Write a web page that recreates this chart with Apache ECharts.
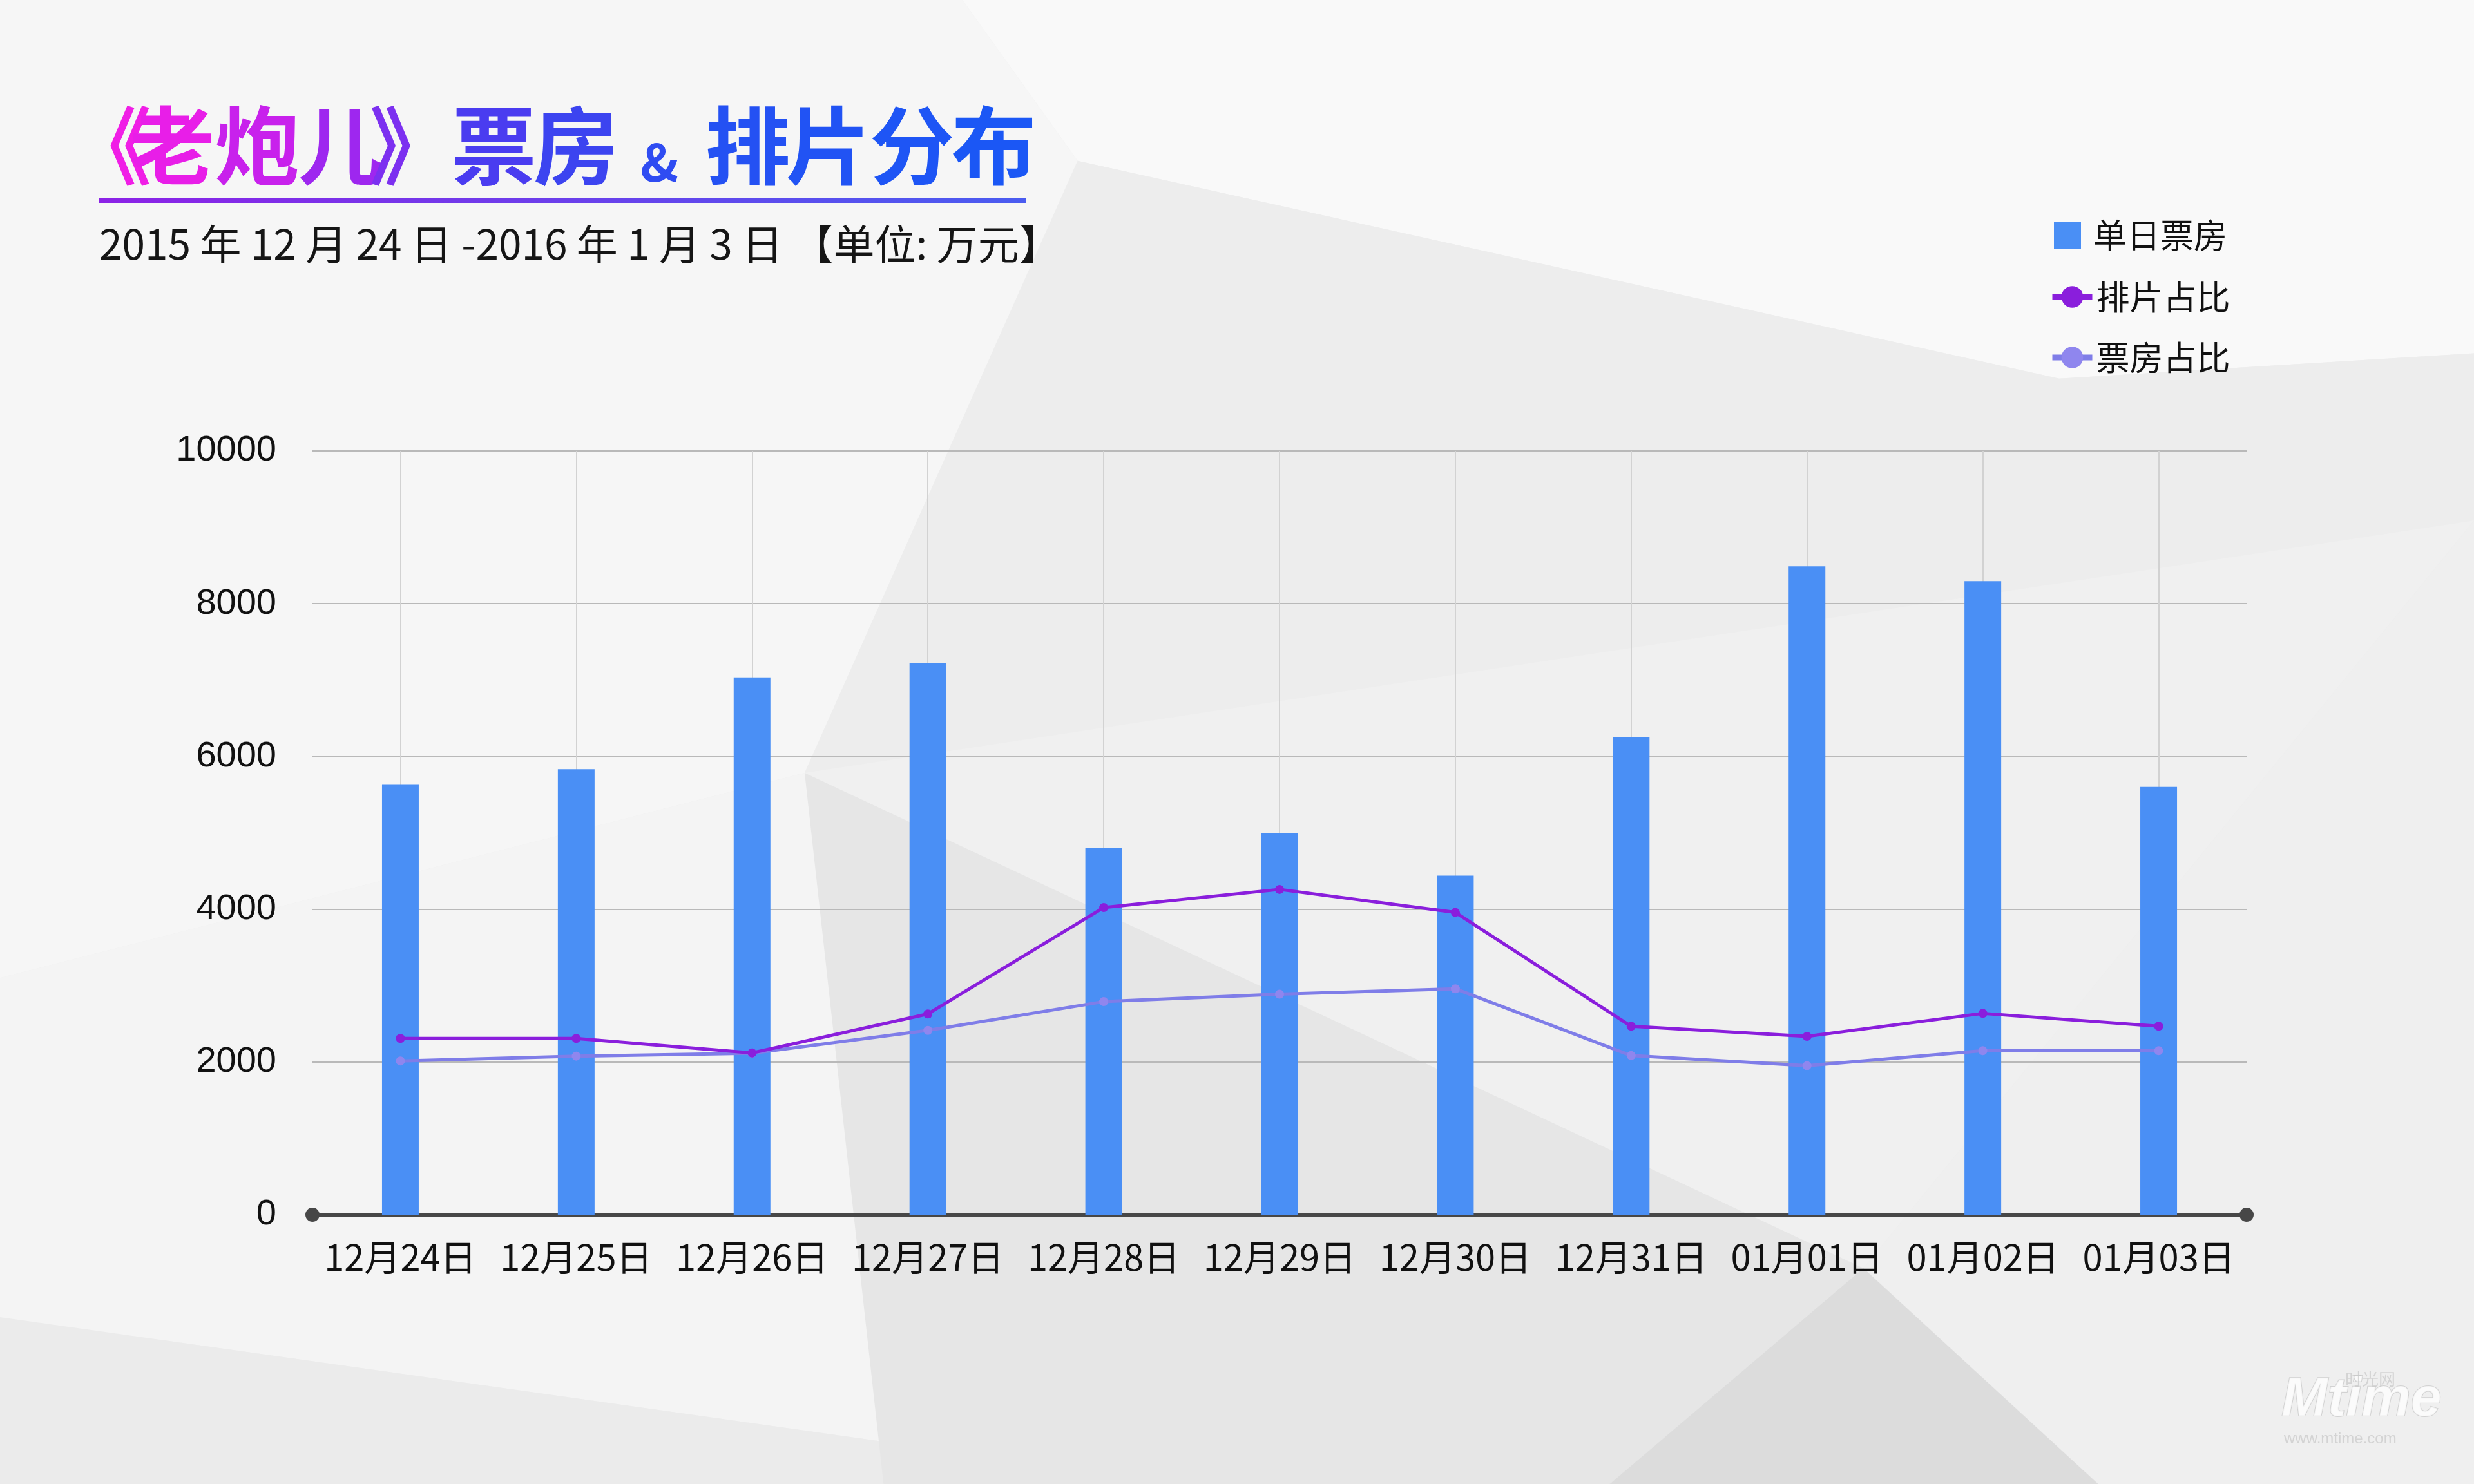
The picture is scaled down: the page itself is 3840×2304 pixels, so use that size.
<!DOCTYPE html>
<html>
<head>
<meta charset="utf-8">
<script src="https://cdn.jsdelivr.net/npm/echarts@6/dist/echarts.min.js"></script>
<style>
html,body{margin:0;padding:0;background:#eeeeee;}
#chart{width:3840px;height:2304px;}
</style>
</head>
<body>
<div id="chart"></div>
<script>
var categories = ['12月24日','12月25日','12月26日','12月27日','12月28日','12月29日','12月30日','12月31日','01月01日','01月02日','01月03日'];
var boxOffice = [5637, 5832, 7035, 7223, 4804, 4993, 4440, 6251, 8489, 8294, 5601];
var screenShare = [2308, 2308, 2119, 2629, 4021, 4259, 3958, 2468, 2336, 2636, 2468];
var boxShare = [2014, 2077, 2115, 2413, 2790, 2888, 2958, 2084, 1951, 2147, 2147];
var yTicks = { min: 0, max: 10000, interval: 2000 };

var S = 3840 / 1568;
function P(arr){ return arr.map(function(p){ return [p[0]*S, p[1]*S]; }); }
function poly(pts, color){
  return { type:'polygon', z:-100, silent:true, shape:{ points:P(pts) }, style:{ fill: color } };
}

var chart = echarts.init(document.getElementById('chart'));
var CJK = '"Noto Sans CJK SC", "Noto Sans", sans-serif';

var bg = [
  { type:'rect', z:-101, silent:true, shape:{x:0,y:0,width:3840,height:2304}, style:{fill:'#eeeeee'} },
  poly([[0,0],[610,0],[683,102],[510,490],[0,620]], '#f6f6f6'),
  poly([[610,0],[1568,0],[1568,224],[1305,240],[683,102]], '#f9f9f9'),
  poly([[683,102],[1305,240],[1568,224],[1568,330],[510,490]], '#ededed'),
  poly([[0,620],[510,490],[0,940]], '#f4f4f4'),
  poly([[0,835],[510,490],[560,914]], '#f4f4f4'),
  poly([[0,835],[560,914],[560,941],[0,941]], '#ebebeb'),
  poly([[510,490],[1568,330],[1181,804]], '#f0f0f0'),
  poly([[510,490],[1181,804],[1020,941],[560,941]], '#e6e6e6'),
  poly([[1181,804],[1568,330],[1568,941],[1330,941]], '#efefef'),
  poly([[1181,804],[1330,941],[1020,941]], '#dcdcdc')
];

// title glyphs: [char, centre x (display px), colour]
var titleChars = [
  ['《',69,'#f01ee6'],['老',109,'#e81ee8'],['炮',163,'#c821ec'],['儿',216,'#9e27ef'],['》',261,'#7c30f0'],
  ['票',313,'#4a3cf0'],['房',365,'#3c44f0'],
  ['排',474,'#2451f3'],['片',525,'#2153f4'],['分',578,'#1e55f5'],['布',630,'#1b57f5']
];
var titleGroup = titleChars.map(function(c){
  return { type:'text', x:c[1]*S, y:226, z:10,
    style:{ text:c[0], font:'bold 132px ' + CJK, fill:c[2], textAlign:'center', textVerticalAlign:'middle' } };
});
titleGroup = titleGroup.concat([
  { type:'text', x:418*S, y:252, z:10,
    style:{ text:'&', font:'bold 80px ' + CJK, fill:'#2f4cf2', textAlign:'center', textVerticalAlign:'middle' } },
  { type:'rect', z:10, shape:{ x:154, y:308, width:1438, height:7 },
    style:{ fill: new echarts.graphic.LinearGradient(0,0,1,0,[
        {offset:0,color:'#8c22e6'},{offset:1,color:'#4a5cf0'}]) } },
  { type:'text', x:154, y:379, z:10,
    style:{ text:'2015 年 12 月 24 日 -2016 年 1 月 3 日 【单位: 万元】', font:'64px ' + CJK, fill:'#151515', textVerticalAlign:'middle' } },
  { type:'text', left:3540, top:2130, z:-50, silent:true,
    style:{ text:'Mtime', font:'italic bold 86px "Liberation Sans", sans-serif', fill:'rgba(255,255,255,0.75)', stroke:'rgba(190,190,190,0.6)', lineWidth:2 } },
  { type:'text', left:3640, top:2128, z:-50, silent:true,
    style:{ text:'时光网', font:'26px ' + CJK, fill:'rgba(200,200,200,0.7)' } },
  { type:'text', left:3545, top:2222, z:-50, silent:true,
    style:{ text:'www.mtime.com', font:'24px "Liberation Sans", sans-serif', fill:'rgba(200,200,200,0.7)' } }
]);

var option = {
  backgroundColor: 'transparent',
  animation: false,
  graphic: bg.concat(titleGroup),
  legend: [
    { data:[{ name:'单日票房', icon:'rect' }], orient:'vertical', left:3183, top:334,
      itemWidth:42, itemHeight:42,
      textStyle:{ fontSize:52, color:'#111', fontFamily:CJK, padding:[0,0,0,14] } },
    { data:['排片占比','票房占比'], orient:'vertical', left:3176, top:430,
      itemWidth:62, itemHeight:42, itemGap:42,
      lineStyle:{ width:9 },
      textStyle:{ fontSize:52, color:'#111', fontFamily:CJK, padding:[0,0,0,1] } }
  ],
  grid: { left:485, right:353, top:700, bottom:418, containLabel:false },
  xAxis: {
    type:'category', data:categories, boundaryGap:true,
    axisLine:{ show:true, lineStyle:{ color:'#474747', width:7 }, symbol:['circle','circle'], symbolSize:[22,22] },
    axisTick:{ show:false },
    axisLabel:{ fontSize:56, color:'#111', fontFamily:CJK, margin:38, interval:0 },
    splitLine:{ show:true, alignWithLabel:true, lineStyle:{ color:'#d2d2d2', width:2 } }
  },
  yAxis: {
    type:'value', min:yTicks.min, max:yTicks.max, interval:yTicks.interval,
    axisLine:{ show:false }, axisTick:{ show:false },
    axisLabel:{ fontSize:56, color:'#111', fontFamily:'"Liberation Sans", Arial, sans-serif', margin:56,
      formatter:function(v){ return String(v); } },
    splitLine:{ lineStyle:{ color:'#b9b9b9', width:2 } }
  },
  series: [
    { name:'单日票房', type:'bar', data:boxOffice, barWidth:57,
      itemStyle:{ color:'#4a8ff5' }, z:2 },
    { name:'排片占比', type:'line', data:screenShare, symbol:'circle', symbolSize:14,
      lineStyle:{ color:'#8a1edc', width:5 }, itemStyle:{ color:'#8a1edc' }, z:4 },
    { name:'票房占比', type:'line', data:boxShare, symbol:'circle', symbolSize:14,
      lineStyle:{ color:'#7f7de8', width:5 }, itemStyle:{ color:'#8f86ee' }, z:3 }
  ]
};
chart.setOption(option);
</script>
</body>
</html>
